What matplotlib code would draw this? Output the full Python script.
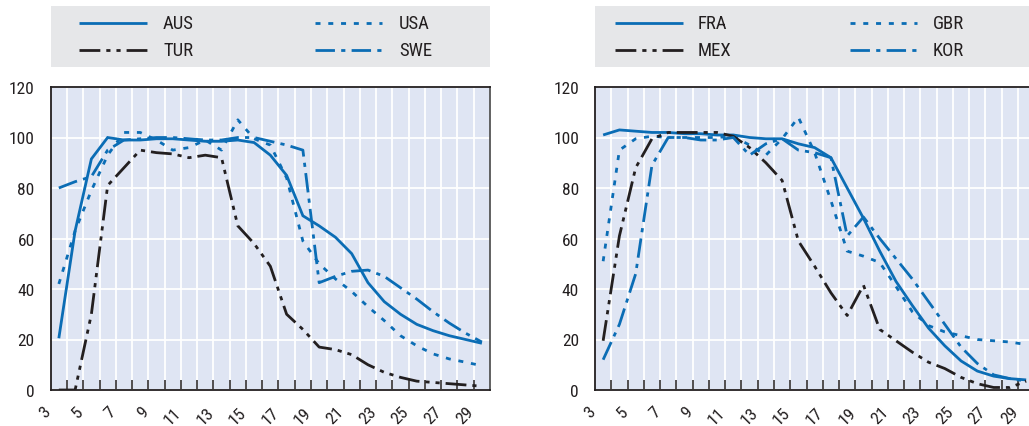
import matplotlib
matplotlib.use("Agg")
import matplotlib.pyplot as plt
from matplotlib import font_manager as fm
from matplotlib.lines import Line2D
from matplotlib.patches import Rectangle
from matplotlib.transforms import ScaledTranslation
import numpy as np

plt.rcParams["lines.scale_dashes"] = False


def pick_narrow_font():
    """Prefer a narrow / condensed sans face when one is installed."""
    fonts = fm.fontManager.ttflist
    names = {f.name for f in fonts}
    for fam in ["Liberation Sans Narrow", "Arial Narrow", "Roboto Condensed",
                "Open Sans Condensed", "Noto Sans Condensed"]:
        if fam in names:
            return fam, "normal", True
    for fam in ["Roboto", "Noto Sans", "Open Sans", "DejaVu Sans", "Inter", "Lato"]:
        for f in fonts:
            if (f.name == fam and f.style == "normal"
                    and f.stretch in ("condensed", "semi-condensed")
                    and f.weight in (400, "normal", "regular", "book")):
                return fam, f.stretch, True
    return "Liberation Sans", "normal", False


FAMILY, STRETCH, NARROW = pick_narrow_font()
plt.rcParams["font.family"] = [FAMILY, "Liberation Sans", "DejaVu Sans"]
plt.rcParams["font.stretch"] = STRETCH
TICK_FS = 12.5 if NARROW else 11.5
XTICK_FS = 12.5 if NARROW else 11
LEG_FS = 13.5 if NARROW else 12.5

ages = list(range(3, 30))
tick_ages = list(range(3, 30, 2))
y_ticks = [0, 20, 40, 60, 80, 100, 120]

# Left panel
aus = [20.5, 63, 91.5, 100, 99, 99, 99.5, 99.5, 99, 98.5, 98.5, 99, 98, 93, 85,
       69, 65, 60.5, 54, 42.5, 35, 30, 26, 23.5, 21.5, 20, 18.5]
usa = [42, 63, 79, 93, 102, 102, 99, 95, 96, 99, 95, 107, 99.5, 97, 84,
       59, 50, 44, 39, 33, 27.5, 21.5, 17.5, 14.3, 12.3, 11, 9.6]
tur = [0, 0, 30, 81, 88, 95, 94, 93.5, 92, 93, 92, 65, 58, 49, 30,
       24, 17, 16, 14, 10, 7, 5, 3.5, 3, 2.5, 2, 1.5]
swe = [80, 82.5, 84.5, 95, 99, 99.5, 100, 100, 99.5, 99, 99, 100, 100, 98.5, 97,
       95, 42.5, 45, 47, 47.5, 45, 40.5, 36, 31, 26.5, 22.5, 19]

# Right panel
fra = [101, 103, 102.5, 102, 102, 101.5, 101.5, 101, 101, 100, 99.5, 99.5, 97.5, 96, 92,
       80, 68, 55, 43, 33.5, 24.5, 17.5, 11.5, 7.5, 5.5, 4.5, 4]
gbr = [51, 95, 99.5, 100.5, 100, 100, 100, 100, 100.5, 97, 93, 99.5, 108, 94, 75,
       55, 53, 50.5, 41, 31, 25.5, 23, 21.5, 20, 19.5, 19, 18]
mex = [19.5, 61, 88, 99.5, 102, 102, 102, 102, 100.5, 96, 90, 83, 59, 49, 38.5,
       29.5, 41.5, 24, 19.5, 15, 11, 8.5, 5, 2.5, 1, 1, 3.5]
kor = [12, 26, 46, 89, 100, 100, 99, 99, 100, 93, 97.5, 99.5, 95, 94, 92,
       61, 68.5, 60, 52, 44, 35, 26, 17, 10.5, 6, 4.5, 3.5]

BLUE = "#0b6db5"
BLACK = "#231f20"
AX_BG = "#dfe5f3"
LEG_BG = "#e6e7e9"

STYLES = {
    "solid": dict(color=BLUE, linestyle="-"),
    "dotted": dict(color=BLUE, dashes=(3.6, 5.6)),
    "dashdotdot": dict(color=BLACK, dashes=(15, 4.3, 3, 4.3, 3, 4.3)),
    "dashdot": dict(color=BLUE, dashes=(14, 4.5, 3, 4.5)),
}
LW = 2.0

fig = plt.figure(figsize=(10.29, 4.27), dpi=100)
W, H = 1029, 427


def px_rect(x0, y0, x1, y1):
    return [x0 / W, 1 - y1 / H, (x1 - x0) / W, (y1 - y0) / H]


panels = [
    (px_rect(50.7, 88, 490, 391), 51, 490,
     [("AUS", aus, "solid"), ("USA", usa, "dotted"),
      ("TUR", tur, "dashdotdot"), ("SWE", swe, "dashdot")],
     (79, 147, 163), (315, 382, 399)),
    (px_rect(595, 88, 1034.3, 391), 595, 1040,
     [("FRA", fra, "solid"), ("GBR", gbr, "dotted"),
      ("MEX", mex, "dashdotdot"), ("KOR", kor, "dashdot")],
     (615, 683, 698), (850, 917, 933)),
]

for rect, lx0, lx1, series, col1, col2 in panels:
    ax = fig.add_axes(rect)
    ax.set_facecolor(AX_BG)
    for name, vals, style in series:
        ax.plot(ages, vals, lw=LW, solid_capstyle="butt", dash_capstyle="butt",
                solid_joinstyle="miter", zorder=3, **STYLES[style])
    ax.set_xlim(2.5, 29.5)
    ax.set_ylim(0, 120)
    ax.set_yticks(y_ticks)
    ax.set_xticks(tick_ages)
    ax.set_xticks(np.arange(3.5, 29.5, 1), minor=True)
    ax.grid(True, which="major", axis="y", color="white", lw=1.3, zorder=1)
    ax.grid(True, which="minor", axis="x", color="white", lw=1.3, zorder=1)
    ax.set_axisbelow(True)
    ax.tick_params(axis="y", length=0, pad=11.5, labelsize=TICK_FS, labelcolor=BLACK)
    ax.tick_params(axis="x", which="major", length=0, pad=10, labelsize=XTICK_FS,
                   labelcolor=BLACK)
    ax.tick_params(axis="x", which="minor", direction="in", length=7, width=1.1,
                   color=BLACK)
    ax.set_xticklabels([str(a) for a in tick_ages], rotation=45, ha="right", va="top")
    shift = ScaledTranslation(-5 / 100, 0, fig.dpi_scale_trans)
    for lab in ax.get_xticklabels():
        lab.set_transform(lab.get_transform() + shift)
    for s in ax.spines.values():
        s.set_color(BLACK)
        s.set_linewidth(1.3)
    ax.spines["right"].set_color("#555555")

    # legend box above the panel
    fig.add_artist(Rectangle((lx0 / W, 1 - 68 / H), (lx1 - lx0) / W, 61 / H,
                             transform=fig.transFigure, facecolor=LEG_BG,
                             edgecolor="none", zorder=0))
    rows = [24, 51]
    entries = [(series[0], col1, rows[0]), (series[1], col2, rows[0]),
               (series[2], col1, rows[1]), (series[3], col2, rows[1])]
    for (name, vals, style), (x0, x1, xt), yr in entries:
        y = 1 - yr / H
        fig.add_artist(Line2D([x0 / W, x1 / W], [y, y], transform=fig.transFigure,
                              lw=LW, solid_capstyle="butt", dash_capstyle="butt",
                              **STYLES[style]))
        fig.text(xt / W, y, name, fontsize=LEG_FS, color=BLACK, va="center", ha="left")

fig.savefig("out.png", dpi=100)
